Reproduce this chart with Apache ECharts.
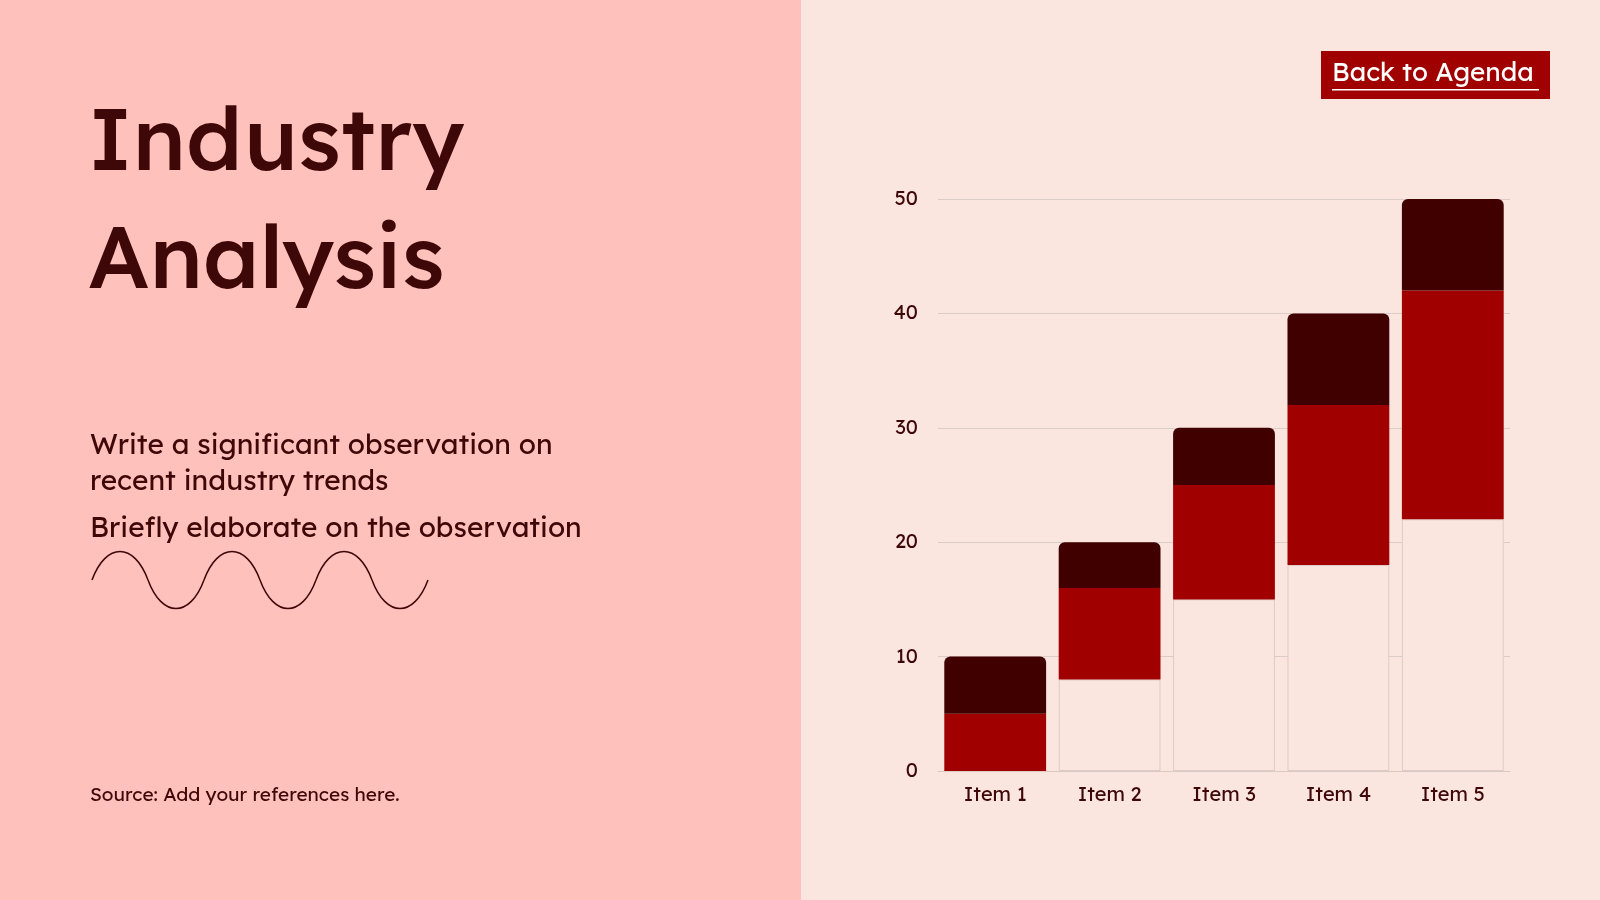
<!DOCTYPE html>
<html><head><meta charset="utf-8">
<script src="https://cdn.jsdelivr.net/npm/echarts@6/dist/echarts.min.js"></script>
<style>html,body{margin:0;padding:0;}#c{width:1600px;height:900px;}</style>
</head><body><div id="c"></div>
<script>
const categories = ['Item 1', 'Item 2', 'Item 3', 'Item 4', 'Item 5'];
const baseValues = [0, 8, 15, 18, 22];
const midValues = [5, 8, 10, 14, 20];
const topValues = [5, 4, 5, 8, 8];
const yTicks = { min: 0, max: 50, interval: 10 };

const chart = echarts.init(document.getElementById('c'));
const font = 'Lexend, Inter, "Noto Sans", sans-serif';
// decorative wave
const waveParts = [];
for (let i = 0; i < 6; i++) {
  const x = 92 + i * 56;
  const dir = i % 2 === 0 ? -1 : 1;
  waveParts.push({
    type: 'bezierCurve',
    shape: { x1: x, y1: 580, cpx1: x + 14, cpy1: 580 + dir * 38, cpx2: x + 42, cpy2: 580 + dir * 38, x2: x + 56, y2: 580 },
    style: { stroke: '#3f0808', lineWidth: 1.5, fill: null }
  });
}
chart.setOption({
  backgroundColor: '#fbe6df',
  graphic: [
    { type: 'rect', shape: { x: 0, y: 0, width: 801, height: 900 }, style: { fill: '#ffc1bc' }, z: -10 },
    { type: 'text', x: 88, y: 85, style: { text: 'Industry\nAnalysis', font: '500 88px ' + font, fill: '#3f0808', lineHeight: 118 } },
    { type: 'text', x: 90, y: 428, style: { text: 'Write a significant observation on\nrecent industry trends', font: '28px ' + font, fill: '#3f0808', lineHeight: 36 } },
    { type: 'text', x: 90, y: 515, style: { text: 'Briefly elaborate on the observation', font: '28px ' + font, fill: '#3f0808' } },
    ...waveParts,
    { type: 'text', x: 90, y: 786, style: { text: 'Source: Add your references here.', font: '19px ' + font, fill: '#3f0808' } },
    { type: 'rect', shape: { x: 1321, y: 51, width: 229, height: 48 }, style: { fill: '#a00000' } },
    { type: 'text', x: 1332, y: 60, style: { text: 'Back to Agenda', font: '26px ' + font, fill: '#ffffff' } },
    { type: 'rect', shape: { x: 1332, y: 89, width: 207, height: 1.5 }, style: { fill: '#ffffff' } }
  ],
  grid: { left: 938, right: 90, top: 199, bottom: 129 },
  xAxis: {
    type: 'category', data: categories,
    axisLine: { lineStyle: { color: '#d9c8c3' } }, axisTick: { show: false },
    axisLabel: { color: '#3f0808', fontSize: 20, fontFamily: font, margin: 14 }
  },
  yAxis: {
    type: 'value', min: yTicks.min, max: yTicks.max, interval: yTicks.interval,
    axisLine: { show: false }, axisTick: { show: false },
    splitLine: { lineStyle: { color: '#dcccc7' } },
    axisLabel: { color: '#3f0808', fontSize: 20, fontFamily: font, margin: 20 }
  },
  series: [
    { type: 'bar', stack: 's', data: baseValues, barCategoryGap: '11%',
      itemStyle: { color: '#fbe6df', borderColor: '#dccbc6', borderWidth: 1 } },
    { type: 'bar', stack: 's', data: midValues, itemStyle: { color: '#a00000' } },
    { type: 'bar', stack: 's', data: topValues, itemStyle: { color: '#400000', borderRadius: [6, 6, 0, 0] } }
  ]
});
</script></body></html>
